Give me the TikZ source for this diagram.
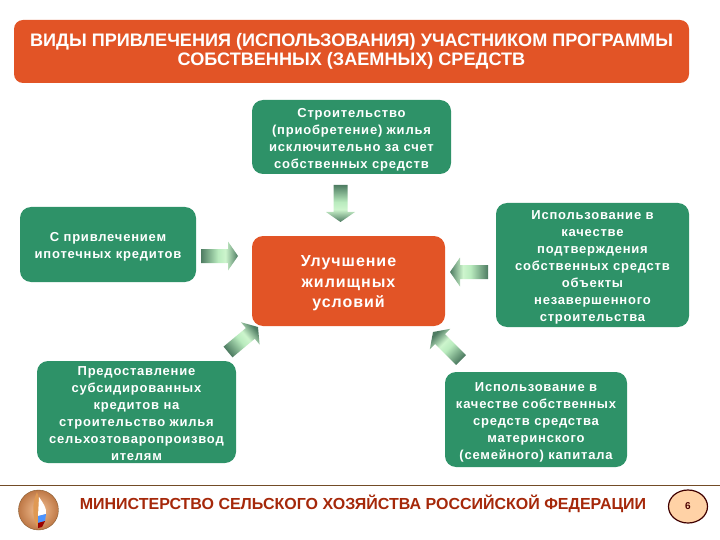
\documentclass[tikz,border=0pt]{standalone}
\usepackage{fontspec}
\setmainfont{Liberation Sans}
\newfontfamily\widefont[LetterSpace=6]{Liberation Sans}
\usetikzlibrary{shapes.geometric, positioning, calc, shadings}

\definecolor{boxorange}{RGB}{226,84,38}
\definecolor{boxgreen}{RGB}{46,146,104}
\definecolor{footred}{RGB}{165,40,10}
\definecolor{logobrown}{RGB}{190,120,70}
\definecolor{logolight}{RGB}{245,195,150}
\definecolor{flowdark}{RGB}{78,124,98}
\definecolor{flowlight}{RGB}{205,245,205}
\definecolor{flowmid}{RGB}{185,235,190}

% dark tail at the top of the box, lightest near the head, dark tip
\pgfdeclareverticalshading{flowshade}{100bp}{
    color(0bp)=(flowdark);
    color(25bp)=(flowdark);
    color(42bp)=(flowlight);
    color(52bp)=(flowmid);
    color(75bp)=(flowdark);
    color(100bp)=(flowdark)}

% gradient block arrow: tail, tip, shading angle
\newcommand{\blockarrow}[3]{
    \coordinate (headbase) at ($(#2)!10pt!(#1)$);
    \path [shading=flowshade, shading angle=#3]
        ($(#1)!7pt!90:(#2)$) -- ($(headbase)!7pt!-90:(#1)$) -- ($(headbase)!14.5pt!-90:(#1)$)
        -- (#2)
        -- ($(headbase)!14.5pt!90:(#1)$) -- ($(headbase)!7pt!90:(#1)$) -- ($(#1)!7pt!-90:(#2)$) -- cycle;
}
% pushes a box text down a little
\newcommand{\topgap}[1]{\rule{0pt}{#1pt}}

\begin{document}
\begin{tikzpicture}[
    x=1pt, y=-1pt,
    titlebox/.style={rectangle, fill=boxorange, rounded corners=9pt, text=white, align=center, font=\bfseries\fontsize{18.1}{19}\selectfont, inner sep=0pt},
    stage/.style={rectangle, fill=boxgreen, rounded corners=11pt, text=white, align=center, font=\widefont\bfseries\fontsize{13}{17}\selectfont, inner sep=0pt}
]
\useasboundingbox (0,0) rectangle (720,540);

\node [titlebox, minimum width=675pt, minimum height=63pt] (title) at (351.5,51.5) {ВИДЫ ПРИВЛЕЧЕНИЯ (ИСПОЛЬЗОВАНИЯ) УЧАСТНИКОМ ПРОГРАММЫ\\СОБСТВЕННЫХ (ЗАЕМНЫХ) СРЕДСТВ};

\node [stage, minimum width=199pt, minimum height=74pt] (own) at (351.5,137) {\topgap{15.5}Строительство\\(приобретение) жилья\\исключительно за счет\\собственных средств};
\node [stage, minimum width=176pt, minimum height=75pt] (mortgage) at (108,244.5) {\topgap{13}С привлечением\\ипотечных кредитов};
\node [stage, minimum width=193pt, minimum height=90pt, fill=boxorange, font=\widefont\bfseries\fontsize{16}{20.5}\selectfont] (goal) at (348.5,281) {\topgap{15.5}Улучшение\\жилищных\\условий};
\node [stage, minimum width=193pt, minimum height=124pt] (unfinished) at (592.5,265) {\topgap{13}Использование в\\качестве\\подтверждения\\собственных средств\\объекты\\незавершенного\\строительства};
\node [stage, minimum width=199pt, minimum height=102pt] (subsidy) at (136.5,412) {\topgap{12}Предоставление\\субсидированных\\кредитов на\\строительство жилья\\сельхозтоваропроизвод\\ителям};
\node [stage, minimum width=182pt, minimum height=95pt] (family) at (536,419.5) {\topgap{15.5}Использование в\\качестве собственных\\средств средства\\материнского\\(семейного) капитала};

\coordinate (owntail) at (340.5,185);
\coordinate (owntip) at (340.5,222);
\coordinate (mortgagetail) at (201,256);
\coordinate (mortgagetip) at (238,256);
\coordinate (unfinishedtail) at (488,272);
\coordinate (unfinishedtip) at (450,272);
\coordinate (subsidytail) at (228,352);
\coordinate (subsidytip) at (258,327);
\coordinate (familytail) at (461,360);
\coordinate (familytip) at (433,332);

\blockarrow{owntail}{owntip}{0}
\blockarrow{mortgagetail}{mortgagetip}{90}
\blockarrow{unfinishedtail}{unfinishedtip}{-90}
\blockarrow{subsidytail}{subsidytip}{130}
\blockarrow{familytail}{familytip}{-135}

\coordinate (ruleleft) at (0,485);
\coordinate (ruleright) at (720,485);
\draw [draw=brown!60!black, line width=1pt] (ruleleft) -- (ruleright);

\node [circle, draw=brown!70!black, inner color=logolight, outer color=logobrown, minimum size=40pt, inner sep=0pt] (logo) at (38.5,510) {};
\fill [brown!60!orange!80] (37,492) .. controls (32,503) and (32,516) .. (37,527) .. controls (40,516) and (41,503) .. (37,492);
\fill [white] (39,497) .. controls (43,503) and (47,508) .. (46,514) -- (38,516) -- cycle;
\fill [blue!60!cyan!70] (38,516) -- (46,514) -- (45,521) -- (38,523) -- cycle;
\fill [red!60!black] (38,523) -- (45,521) -- (42,527) -- (38,528) -- cycle;

\node [text=footred, font=\bfseries\fontsize{16}{17}\selectfont] (ministry) at (363,504) {МИНИСТЕРСТВО СЕЛЬСКОГО ХОЗЯЙСТВА РОССИЙСКОЙ ФЕДЕРАЦИИ};
\node [ellipse, draw=black!75!red, line width=1.2pt, fill=orange!35, minimum width=39pt, minimum height=33pt, inner sep=0pt, font=\bfseries\fontsize{10}{11}\selectfont, text=black!70!red] (page) at (688,506.5) {6};
\end{tikzpicture}
\end{document}
